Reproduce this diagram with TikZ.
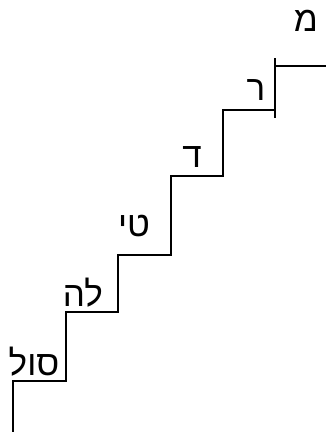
\documentclass[tikz,border=0pt]{standalone}
\usepackage{fontspec}
\newfontfamily\hebfont[Script=Hebrew]{Liberation Sans}
\TeXXeTstate=1
\begin{document}
\begin{tikzpicture}[x=1pt,y=-1pt,
  stair/.style={line width=1.4pt, line cap=butt, line join=miter},
  lbl/.style={font=\hebfont\fontsize{35}{40}\selectfont, anchor=base, inner sep=0pt}]
\useasboundingbox (0,0) rectangle (325,432);
% staircase corners
\coordinate (p0) at (13,432);
\coordinate (p1) at (13,381);
\coordinate (p2) at (66,381);
\coordinate (p3) at (66,312);
\coordinate (p4) at (118,312);
\coordinate (p5) at (118,255);
\coordinate (p6) at (171,255);
\coordinate (p7) at (171,176);
\coordinate (p8) at (223,176);
\coordinate (p9) at (223,110);
\coordinate (p10) at (275,110);
\coordinate (p11) at (275,66);
\coordinate (p12) at (330,66);
\coordinate (t1) at (275,58);
\coordinate (t2) at (275,118);
\draw[stair] (p0) -- (p1) -- (p2) -- (p3) -- (p4) -- (p5) -- (p6) -- (p7) -- (p8) -- (p9) -- (p10) -- (p11);
\draw[stair] (p11) -- (p12);
\draw[stair] (t1) -- (t2);
% labels
\node[lbl] (mi) at (306,31) {\beginR מ\endR};
\node[lbl] (re) at (256,100) {\beginR ר\endR};
\node[lbl] (do) at (192,167) {\beginR ד\endR};
\node[lbl] (ti) at (134,236) {\beginR טי\endR};
\node[lbl] (la) at (83,306) {\beginR לה\endR};
\node[lbl] (sol) at (34,375) {\beginR סול\endR};
\end{tikzpicture}
\end{document}
